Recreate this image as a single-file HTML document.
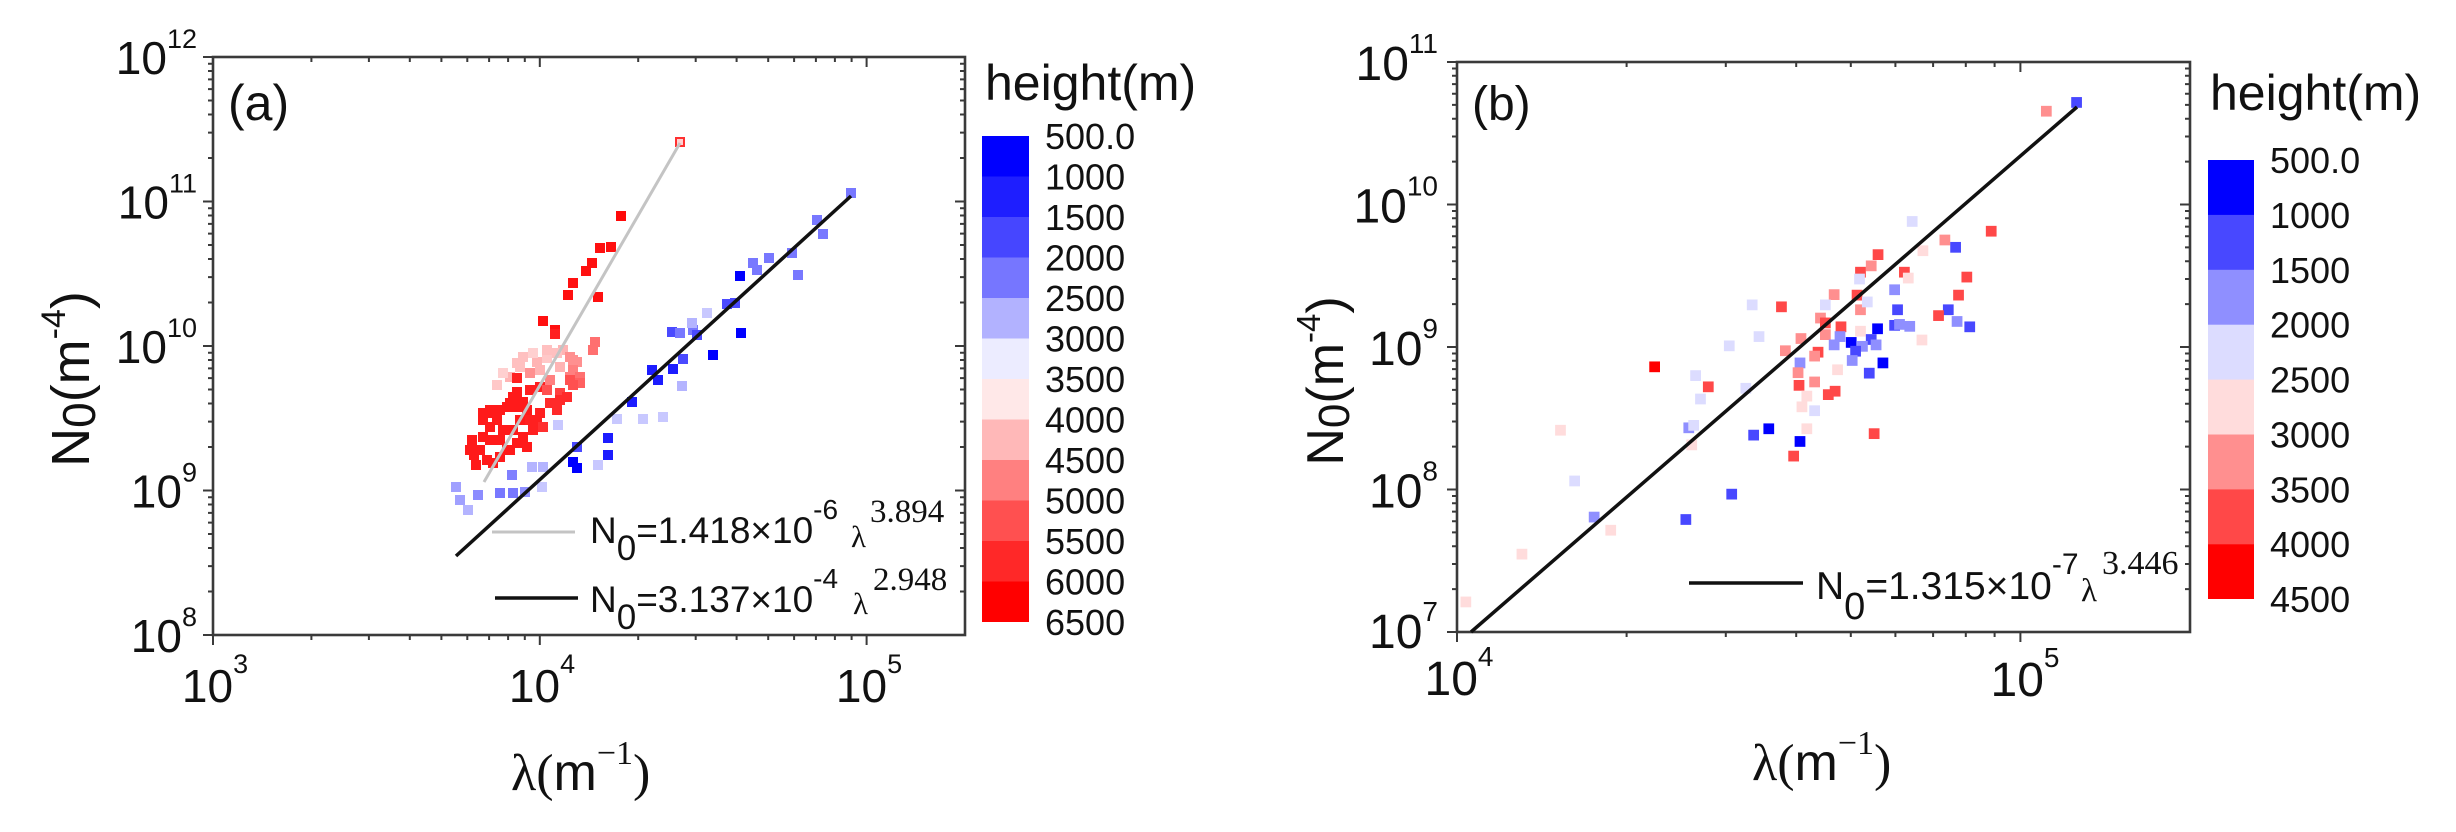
<!DOCTYPE html>
<html>
<head>
<meta charset="utf-8">
<style>
html,body{margin:0;padding:0;background:#fff;width:2456px;height:832px;overflow:hidden}
svg{position:absolute;left:0;top:0}
.s{font-family:"Liberation Sans",Arial,sans-serif;fill:#111}
.r{font-family:"Liberation Serif","Times New Roman",serif;fill:#111}
</style>
</head>
<body>
<svg width="2456" height="832" viewBox="0 0 2456 832" xmlns="http://www.w3.org/2000/svg">
<defs>
<rect id="p" x="-5" y="-5" width="10" height="10"/>
<rect id="q" x="-11" y="-11" width="22" height="22"/>
<!-- panel a y ticks (relative x=0) -->
<path id="ayMin" d="M0 591.5h-5M0 566.1h-5M0 548h-5M0 534h-5M0 522.6h-5M0 512.9h-5M0 504.5h-5M0 497.2h-5M0 447h-5M0 421.6h-5M0 403.5h-5M0 389.5h-5M0 378.1h-5M0 368.4h-5M0 360h-5M0 352.7h-5M0 302.5h-5M0 277.1h-5M0 259h-5M0 245h-5M0 233.6h-5M0 223.9h-5M0 215.5h-5M0 208.2h-5M0 158h-5M0 132.6h-5M0 114.5h-5M0 100.5h-5M0 89.1h-5M0 79.4h-5M0 71h-5M0 63.7h-5" />
<path id="ayMaj" d="M0 57h-10M0 201.5h-10M0 346h-10M0 490.5h-10M0 635h-10"/>
<path id="axMin" d="M311.4 0v5M368.9 0v5M409.8 0v5M441.4 0v5M467.3 0v5M489.1 0v5M508.1 0v5M524.8 0v5M638.2 0v5M695.7 0v5M736.6 0v5M768.2 0v5M794.1 0v5M815.9 0v5M834.9 0v5M851.6 0v5"/>
<path id="axMaj" d="M213 0v10M539.8 0v10M866.6 0v10"/>
<!-- panel b -->
<path id="byMin" d="M0 589.1h-5M0 564h-5M0 546.2h-5M0 532.4h-5M0 521.2h-5M0 511.6h-5M0 503.3h-5M0 496h-5M0 446.6h-5M0 421.5h-5M0 403.7h-5M0 389.9h-5M0 378.7h-5M0 369.1h-5M0 360.8h-5M0 353.5h-5M0 304.1h-5M0 279h-5M0 261.2h-5M0 247.4h-5M0 236.2h-5M0 226.6h-5M0 218.3h-5M0 211h-5M0 161.6h-5M0 136.5h-5M0 118.7h-5M0 104.9h-5M0 93.7h-5M0 84.1h-5M0 75.8h-5M0 68.5h-5"/>
<path id="byMaj" d="M0 62h-10M0 204.5h-10M0 347h-10M0 489.5h-10M0 632h-10"/>
<path id="bxMin" d="M1626.6 0v5M1725.8 0v5M1796.2 0v5M1850.8 0v5M1895.4 0v5M1933.1 0v5M1965.8 0v5M1994.6 0v5"/>
<path id="bxMaj" d="M1457 0v10M2020.4 0v10"/>
</defs>

<!-- ================= PANEL A ================= -->
<g stroke="#3a3a3a" stroke-width="2" fill="none">
<use href="#ayMin" x="213"/>
<use href="#ayMin" x="965"/>
<use href="#ayMaj" x="213"/>
<use href="#ayMaj" x="965"/>
<use href="#axMin" y="635"/>
<use href="#axMin" y="57"/>
<use href="#axMaj" y="635"/>
<use href="#axMaj" y="57" transform="translate(0,0)"/>
</g>
<g stroke="#3a3a3a" stroke-width="2" fill="none" transform="translate(0,0)">
<path d="M213 57v0"/>
</g>
<rect x="213" y="57" width="752" height="578" fill="none" stroke="#3a3a3a" stroke-width="2.6"/>

<!-- scatter a: blue -->
<g>
<use href="#p" x="851" y="193" fill="#7878ff"/>
<use href="#p" x="817" y="220" fill="#7878ff"/>
<use href="#p" x="823" y="234" fill="#7878ff"/>
<use href="#p" x="792" y="253" fill="#7878ff"/>
<use href="#p" x="769" y="258" fill="#7878ff"/>
<use href="#p" x="753" y="263" fill="#7878ff"/>
<use href="#p" x="757" y="270" fill="#7878ff"/>
<use href="#p" x="740" y="276" fill="#0000ff"/>
<use href="#p" x="798" y="275" fill="#7878ff"/>
<use href="#p" x="727" y="304" fill="#4a4aff"/>
<use href="#p" x="735" y="303" fill="#4a4aff"/>
<use href="#p" x="707" y="313" fill="#c8c8ff"/>
<use href="#p" x="741" y="333" fill="#0000ff"/>
<use href="#p" x="713" y="355" fill="#0000ff"/>
<use href="#p" x="693" y="330" fill="#7878ff"/>
<use href="#p" x="697" y="335" fill="#4a4aff"/>
<use href="#p" x="672" y="332" fill="#4a4aff"/>
<use href="#p" x="680" y="333" fill="#7878ff"/>
<use href="#p" x="692" y="323" fill="#b4b4ff"/>
<use href="#p" x="683" y="359" fill="#4a4aff"/>
<use href="#p" x="652" y="370" fill="#1c1cff"/>
<use href="#p" x="658" y="380" fill="#1c1cff"/>
<use href="#p" x="673" y="369" fill="#1c1cff"/>
<use href="#p" x="682" y="386" fill="#b4b4ff"/>
<use href="#p" x="632" y="402" fill="#1c1cff"/>
<use href="#p" x="617" y="419" fill="#c8c8ff"/>
<use href="#p" x="643" y="419" fill="#c8c8ff"/>
<use href="#p" x="663" y="417" fill="#c8c8ff"/>
<use href="#p" x="608" y="438" fill="#1c1cff"/>
<use href="#p" x="608" y="455" fill="#1c1cff"/>
<use href="#p" x="577" y="447" fill="#4a4aff"/>
<use href="#p" x="573" y="462" fill="#0000ff"/>
<use href="#p" x="577" y="468" fill="#0000ff"/>
<use href="#p" x="598" y="465" fill="#c8c8ff"/>
<use href="#p" x="558" y="425" fill="#c8c8ff"/>
<use href="#p" x="532" y="467" fill="#b4b4ff"/>
<use href="#p" x="543" y="467" fill="#b4b4ff"/>
<use href="#p" x="542" y="487" fill="#c8c8ff"/>
<use href="#p" x="512" y="475" fill="#8080ff"/>
<use href="#p" x="500" y="493" fill="#7878ff"/>
<use href="#p" x="513" y="493" fill="#7878ff"/>
<use href="#p" x="525" y="492" fill="#9090ff"/>
<use href="#p" x="456" y="487" fill="#a0a0ff"/>
<use href="#p" x="460" y="500" fill="#a0a0ff"/>
<use href="#p" x="468" y="510" fill="#b4b4ff"/>
<use href="#p" x="478" y="495" fill="#8c8cff"/>
</g>
<!-- scatter a: red -->
<g>
<rect x="676" y="138" width="8" height="8" fill="#ffd0d0" stroke="#ff3030" stroke-width="2"/>
<use href="#p" x="621" y="216" fill="#ff0a0a"/>
<use href="#p" x="611" y="247" fill="#ff1010"/>
<use href="#p" x="600" y="248" fill="#ff1010"/>
<use href="#p" x="592" y="263" fill="#ff1010"/>
<use href="#p" x="586" y="271" fill="#ff1010"/>
<use href="#p" x="573" y="283" fill="#ff1010"/>
<use href="#p" x="568" y="295" fill="#ff1010"/>
<use href="#p" x="598" y="297" fill="#ff1010"/>
<use href="#p" x="543" y="321" fill="#ff1010"/>
<use href="#p" x="555" y="330" fill="#ff1010"/>
<use href="#p" x="595" y="342" fill="#ff7070"/>
<use href="#p" x="593" y="350" fill="#ff7070"/>
<use href="#p" x="555" y="334" fill="#ff2020"/>
<!-- pink zone -->
<use href="#p" x="563" y="350" fill="#ffb4b4"/>
<use href="#p" x="557" y="353" fill="#ffc0c0"/>
<use href="#p" x="570" y="357" fill="#ff9090"/>
<use href="#p" x="577" y="362" fill="#ff9090"/>
<use href="#p" x="547" y="358" fill="#ffc8c8"/>
<use href="#p" x="537" y="362" fill="#ffb4b4"/>
<use href="#p" x="520" y="367" fill="#ffc0c0"/>
<use href="#p" x="510" y="377" fill="#ffb4b4"/>
<use href="#p" x="503" y="373" fill="#ffd0d0"/>
<use href="#p" x="530" y="373" fill="#ff9090"/>
<use href="#p" x="573" y="367" fill="#ff8080"/>
<use href="#p" x="580" y="377" fill="#ff7070"/>
<use href="#p" x="517" y="363" fill="#ffc0c0"/>
<use href="#p" x="523" y="357" fill="#ffc0c0"/>
<use href="#p" x="533" y="353" fill="#ffd0d0"/>
<use href="#p" x="547" y="350" fill="#ffc0c0"/>
<use href="#p" x="573" y="360" fill="#ff9090"/>
<use href="#p" x="560" y="367" fill="#ffb4b4"/>
<use href="#p" x="540" y="370" fill="#ffb4b4"/>
<use href="#p" x="550" y="380" fill="#ff8080"/>
<use href="#p" x="570" y="377" fill="#ff8080"/>
<use href="#p" x="497" y="385" fill="#ffc8c8"/>
<!-- red zone -->
<use href="#p" x="517" y="378" fill="#ff2020"/>
<use href="#p" x="513" y="397" fill="#ff1a1a"/>
<use href="#p" x="510" y="403" fill="#ff1a1a"/>
<use href="#p" x="517" y="407" fill="#ff1a1a"/>
<use href="#p" x="523" y="402" fill="#ff1a1a"/>
<use href="#p" x="490" y="410" fill="#ff1a1a"/>
<use href="#p" x="497" y="417" fill="#ff1a1a"/>
<use href="#p" x="483" y="413" fill="#ff1a1a"/>
<use href="#p" x="540" y="387" fill="#ff2020"/>
<use href="#p" x="547" y="390" fill="#ff5050"/>
<use href="#p" x="550" y="403" fill="#ff2a2a"/>
<use href="#p" x="560" y="393" fill="#ff4040"/>
<use href="#p" x="567" y="397" fill="#ff2a2a"/>
<use href="#p" x="557" y="410" fill="#ff2a2a"/>
<use href="#p" x="570" y="380" fill="#ff5050"/>
<use href="#p" x="580" y="383" fill="#ff6060"/>
<use href="#p" x="517" y="392" fill="#ff1a1a"/>
<use href="#p" x="530" y="390" fill="#ff2020"/>
<use href="#p" x="573" y="385" fill="#ff5050"/>
<use href="#p" x="560" y="400" fill="#ff2a2a"/>
<use href="#p" x="540" y="413" fill="#ff2020"/>
<use href="#p" x="537" y="423" fill="#ff2020"/>
<use href="#p" x="533" y="430" fill="#ff2020"/>
<use href="#p" x="523" y="437" fill="#ff1a1a"/>
<use href="#p" x="527" y="447" fill="#ff1a1a"/>
<use href="#p" x="517" y="443" fill="#ff1a1a"/>
<use href="#p" x="510" y="450" fill="#ff1a1a"/>
<use href="#p" x="500" y="457" fill="#ff1a1a"/>
<use href="#p" x="493" y="463" fill="#ff1a1a"/>
<use href="#p" x="487" y="460" fill="#ff1a1a"/>
<use href="#p" x="480" y="450" fill="#ff1a1a"/>
<use href="#p" x="483" y="437" fill="#ff1a1a"/>
<use href="#p" x="490" y="427" fill="#ff1a1a"/>
<use href="#p" x="493" y="413" fill="#ff1a1a"/>
<use href="#p" x="500" y="410" fill="#ff1a1a"/>
<use href="#p" x="507" y="407" fill="#ff1a1a"/>
<use href="#p" x="497" y="420" fill="#ff1a1a"/>
<use href="#p" x="503" y="430" fill="#ff1a1a"/>
<use href="#p" x="513" y="430" fill="#ff1a1a"/>
<use href="#p" x="520" y="420" fill="#ff1a1a"/>
<use href="#p" x="527" y="410" fill="#ff1a1a"/>
<use href="#p" x="483" y="420" fill="#ff1a1a"/>
<use href="#p" x="490" y="440" fill="#ff1a1a"/>
<use href="#p" x="543" y="427" fill="#ff3030"/>
<use href="#p" x="500" y="440" fill="#ff1a1a"/>
<use href="#p" x="507" y="450" fill="#ff1a1a"/>
<use href="#p" x="530" y="420" fill="#ff2020"/>
<use href="#p" x="472" y="440" fill="#ff1a1a"/>
<use href="#p" x="474" y="455" fill="#ff1a1a"/>
<use href="#p" x="476" y="465" fill="#ff1a1a"/>
<use href="#p" x="470" y="450" fill="#ff1a1a"/>
</g>
<!-- fit lines a -->
<line x1="680" y1="143" x2="484" y2="482" stroke="#c4c4c4" stroke-width="3"/>
<line x1="456" y1="556" x2="851" y2="196" stroke="#111" stroke-width="3.5"/>

<!-- legend a -->
<line x1="492" y1="532" x2="575" y2="532" stroke="#c4c4c4" stroke-width="3"/>
<text class="s" x="590" y="543" font-size="37">N<tspan font-size="35" dy="17">0</tspan><tspan dy="-17">=1.418×10</tspan><tspan font-size="28" dy="-24">-6</tspan></text>
<text class="r" x="851" y="547" font-size="31">λ</text>
<text class="r" x="870" y="522" font-size="33">3.894</text>
<line x1="495" y1="598" x2="578" y2="598" stroke="#111" stroke-width="3.5"/>
<text class="s" x="590" y="612" font-size="37">N<tspan font-size="35" dy="17">0</tspan><tspan dy="-17">=3.137×10</tspan><tspan font-size="28" dy="-24">-4</tspan></text>
<text class="r" x="853" y="614" font-size="31">λ</text>
<text class="r" x="873" y="590" font-size="33">2.948</text>

<!-- panel a label -->
<text class="s" x="228" y="120" font-size="50">(a)</text>

<!-- tick labels a: y -->
<g class="s" font-size="46" text-anchor="end">
<text x="197" y="74">10<tspan font-size="27" dy="-26">12</tspan></text>
<text x="197" y="218.5">10<tspan font-size="27" dy="-26">11</tspan></text>
<text x="197" y="363">10<tspan font-size="27" dy="-26">10</tspan></text>
<text x="197" y="507.5">10<tspan font-size="27" dy="-26">9</tspan></text>
<text x="197" y="652">10<tspan font-size="27" dy="-26">8</tspan></text>
</g>
<g class="s" font-size="46" text-anchor="middle">
<text x="215" y="702">10<tspan font-size="27" dy="-29">3</tspan></text>
<text x="542" y="702">10<tspan font-size="27" dy="-29">4</tspan></text>
<text x="869" y="702">10<tspan font-size="27" dy="-29">5</tspan></text>
</g>
<!-- axis titles a -->
<text class="r" x="511" y="790" font-size="52">λ(<tspan class="s" style="font-family:'Liberation Sans',Arial,sans-serif">m</tspan><tspan font-size="34" dy="-26">−1</tspan><tspan dy="26">)</tspan></text>
<text class="s" font-size="54" text-anchor="middle" transform="translate(89,379) rotate(-90)">N<tspan font-size="46" dy="6">0</tspan><tspan dy="-6">(m</tspan><tspan font-size="34" dy="-24">-4</tspan><tspan dy="24">)</tspan></text>

<!-- colorbar a -->
<g>
<rect x="982" y="136" width="47" height="41" fill="#0000ff"/>
<rect x="982" y="176.5" width="47" height="41" fill="#1e1eff"/>
<rect x="982" y="217" width="47" height="41" fill="#4646ff"/>
<rect x="982" y="257.5" width="47" height="41" fill="#7676ff"/>
<rect x="982" y="298" width="47" height="41" fill="#b2b2ff"/>
<rect x="982" y="338.5" width="47" height="41" fill="#ececff"/>
<rect x="982" y="379" width="47" height="41" fill="#ffe8e8"/>
<rect x="982" y="419.5" width="47" height="41" fill="#ffb8b8"/>
<rect x="982" y="460" width="47" height="41" fill="#ff8080"/>
<rect x="982" y="500.5" width="47" height="41" fill="#ff5050"/>
<rect x="982" y="541" width="47" height="41" fill="#ff2828"/>
<rect x="982" y="581.5" width="47" height="40.5" fill="#ff0000"/>
</g>
<text class="s" x="985" y="100" font-size="50">height(m)</text>
<g class="s" font-size="36">
<text x="1045" y="149">500.0</text>
<text x="1045" y="189.5">1000</text>
<text x="1045" y="230">1500</text>
<text x="1045" y="270.5">2000</text>
<text x="1045" y="311">2500</text>
<text x="1045" y="351.5">3000</text>
<text x="1045" y="392">3500</text>
<text x="1045" y="432.5">4000</text>
<text x="1045" y="473">4500</text>
<text x="1045" y="513.5">5000</text>
<text x="1045" y="554">5500</text>
<text x="1045" y="594.5">6000</text>
<text x="1045" y="635">6500</text>
</g>

<!-- ================= PANEL B ================= -->
<g stroke="#3a3a3a" stroke-width="2" fill="none">
<use href="#byMin" x="1457"/>
<use href="#byMin" x="2190"/>
<use href="#byMaj" x="1457"/>
<use href="#byMaj" x="2190"/>
<use href="#bxMin" y="632"/>
<use href="#bxMin" y="62"/>
<use href="#bxMaj" y="632"/>
<use href="#bxMaj" y="62"/>
</g>
<rect x="1457" y="62" width="733" height="570" fill="none" stroke="#3a3a3a" stroke-width="2.6"/>

<g transform="translate(1440 40) scale(0.4878)">
<use href="#q" x="1305" y="128" fill="#4848ff"/>
<use href="#q" x="1243" y="146" fill="#ff8f8f"/>
<use href="#q" x="1130" y="392" fill="#ff4848"/>
<use href="#q" x="968" y="372" fill="#dcdcff"/>
<use href="#q" x="1035" y="410" fill="#ff8f8f"/>
<use href="#q" x="1057" y="425" fill="#4848ff"/>
<use href="#q" x="990" y="432" fill="#ffdcdc"/>
<use href="#q" x="898" y="440" fill="#ff4848"/>
<use href="#q" x="884" y="463" fill="#ff8f8f"/>
<use href="#q" x="862" y="476" fill="#ff4848"/>
<use href="#q" x="952" y="476" fill="#ff4848"/>
<use href="#q" x="960" y="488" fill="#ffdcdc"/>
<use href="#q" x="1080" y="486" fill="#ff4848"/>
<use href="#q" x="860" y="490" fill="#dcdcff"/>
<use href="#q" x="932" y="512" fill="#8f8fff"/>
<use href="#q" x="1063" y="523" fill="#ff4848"/>
<use href="#q" x="808" y="522" fill="#ff8f8f"/>
<use href="#q" x="855" y="523" fill="#ff4848"/>
<use href="#q" x="862" y="553" fill="#ff8f8f"/>
<use href="#q" x="876" y="537" fill="#dcdcff"/>
<use href="#q" x="790" y="543" fill="#dcdcff"/>
<use href="#q" x="700" y="547" fill="#ff4848"/>
<use href="#q" x="640" y="543" fill="#dcdcff"/>
<use href="#q" x="938" y="553" fill="#4848ff"/>
<use href="#q" x="1042" y="553" fill="#4848ff"/>
<use href="#q" x="1022" y="565" fill="#ff4848"/>
<use href="#q" x="780" y="570" fill="#ff8f8f"/>
<use href="#q" x="790" y="580" fill="#ff4848"/>
<use href="#q" x="822" y="588" fill="#ff4848"/>
<use href="#q" x="862" y="597" fill="#ffdcdc"/>
<use href="#q" x="897" y="592" fill="#0000ff"/>
<use href="#q" x="932" y="585" fill="#4848ff"/>
<use href="#q" x="942" y="583" fill="#8f8fff"/>
<use href="#q" x="963" y="587" fill="#8f8fff"/>
<use href="#q" x="1060" y="577" fill="#8f8fff"/>
<use href="#q" x="1086" y="588" fill="#4848ff"/>
<use href="#q" x="654" y="608" fill="#dcdcff"/>
<use href="#q" x="740" y="612" fill="#ff8f8f"/>
<use href="#q" x="790" y="604" fill="#ff8f8f"/>
<use href="#q" x="820" y="608" fill="#8f8fff"/>
<use href="#q" x="808" y="625" fill="#8f8fff"/>
<use href="#q" x="843" y="620" fill="#0000ff"/>
<use href="#q" x="884" y="614" fill="#4848ff"/>
<use href="#q" x="894" y="625" fill="#8f8fff"/>
<use href="#q" x="866" y="628" fill="#8f8fff"/>
<use href="#q" x="852" y="638" fill="#4848ff"/>
<use href="#q" x="988" y="615" fill="#ffdcdc"/>
<use href="#q" x="593" y="627" fill="#dcdcff"/>
<use href="#q" x="708" y="637" fill="#ff8f8f"/>
<use href="#q" x="775" y="640" fill="#ff4848"/>
<use href="#q" x="768" y="648" fill="#ff8f8f"/>
<use href="#q" x="738" y="662" fill="#8f8fff"/>
<use href="#q" x="845" y="657" fill="#8f8fff"/>
<use href="#q" x="908" y="662" fill="#0000ff"/>
<use href="#q" x="440" y="670" fill="#ff0000"/>
<use href="#q" x="524" y="688" fill="#dcdcff"/>
<use href="#q" x="734" y="682" fill="#ff8f8f"/>
<use href="#q" x="815" y="676" fill="#ffdcdc"/>
<use href="#q" x="880" y="683" fill="#4848ff"/>
<use href="#q" x="550" y="711" fill="#ff4848"/>
<use href="#q" x="627" y="714" fill="#dcdcff"/>
<use href="#q" x="736" y="708" fill="#ff4848"/>
<use href="#q" x="768" y="701" fill="#ff8f8f"/>
<use href="#q" x="810" y="720" fill="#ff4848"/>
<use href="#q" x="796" y="727" fill="#ff4848"/>
<use href="#q" x="752" y="730" fill="#ffdcdc"/>
<use href="#q" x="534" y="736" fill="#dcdcff"/>
<use href="#q" x="742" y="752" fill="#ffdcdc"/>
<use href="#q" x="768" y="760" fill="#dcdcff"/>
<use href="#q" x="510" y="795" fill="#8f8fff"/>
<use href="#q" x="520" y="790" fill="#dcdcff"/>
<use href="#q" x="674" y="797" fill="#0000ff"/>
<use href="#q" x="643" y="810" fill="#4848ff"/>
<use href="#q" x="752" y="797" fill="#ffdcdc"/>
<use href="#q" x="247" y="800" fill="#ffdcdc"/>
<use href="#q" x="890" y="807" fill="#ff4848"/>
<use href="#q" x="738" y="823" fill="#0000ff"/>
<use href="#q" x="516" y="830" fill="#ffdcdc"/>
<use href="#q" x="725" y="853" fill="#ff4848"/>
<use href="#q" x="276" y="904" fill="#dcdcff"/>
<use href="#q" x="598" y="931" fill="#4848ff"/>
<use href="#q" x="316" y="978" fill="#8f8fff"/>
<use href="#q" x="504" y="983" fill="#4848ff"/>
<use href="#q" x="350" y="1005" fill="#ffdcdc"/>
<use href="#q" x="168" y="1054" fill="#ffdcdc"/>
<use href="#q" x="53" y="1152" fill="#ffdcdc"/>
</g>
<!-- fit line b -->
<line x1="1471" y1="632" x2="2077" y2="107" stroke="#111" stroke-width="3.5"/>

<!-- legend b -->
<line x1="1689" y1="583" x2="1803" y2="583" stroke="#111" stroke-width="3.5"/>
<text class="s" x="1816" y="599" font-size="39">N<tspan font-size="38" dy="20">0</tspan><tspan dy="-20">=1.315×10</tspan><tspan font-size="30" dy="-25">-7</tspan></text>
<text class="r" x="2081" y="601" font-size="33">λ</text>
<text class="r" x="2102" y="574" font-size="34">3.446</text>

<text class="s" x="1472" y="120" font-size="48">(b)</text>

<!-- tick labels b -->
<g class="s" font-size="48" text-anchor="end">
<text x="1438" y="80">10<tspan font-size="28" dy="-27">11</tspan></text>
<text x="1438" y="222.5">10<tspan font-size="28" dy="-27">10</tspan></text>
<text x="1438" y="365">10<tspan font-size="28" dy="-27">9</tspan></text>
<text x="1438" y="507.5">10<tspan font-size="28" dy="-27">8</tspan></text>
<text x="1438" y="648">10<tspan font-size="28" dy="-27">7</tspan></text>
</g>
<g class="s" font-size="48" text-anchor="middle">
<text x="1459" y="695">10<tspan font-size="28" dy="-29">4</tspan></text>
<text x="2025" y="696">10<tspan font-size="28" dy="-29">5</tspan></text>
</g>
<text class="r" x="1752" y="780" font-size="52">λ(<tspan style="font-family:'Liberation Sans',Arial,sans-serif">m</tspan><tspan font-size="34" dy="-26">−1</tspan><tspan dy="26">)</tspan></text>
<text class="s" font-size="52" text-anchor="middle" transform="translate(1343,381) rotate(-90)">N<tspan font-size="44" dy="6">0</tspan><tspan dy="-6">(m</tspan><tspan font-size="33" dy="-23">-4</tspan><tspan dy="23">)</tspan></text>

<!-- colorbar b -->
<g>
<rect x="2208" y="160" width="46" height="55.5" fill="#0000ff"/>
<rect x="2208" y="214.9" width="46" height="55.5" fill="#4848ff"/>
<rect x="2208" y="269.8" width="46" height="55.5" fill="#8f8fff"/>
<rect x="2208" y="324.7" width="46" height="55.5" fill="#dcdcff"/>
<rect x="2208" y="379.6" width="46" height="55.5" fill="#ffdcdc"/>
<rect x="2208" y="434.5" width="46" height="55.5" fill="#ff8f8f"/>
<rect x="2208" y="489.4" width="46" height="55.5" fill="#ff4848"/>
<rect x="2208" y="544.3" width="46" height="54.7" fill="#ff0000"/>
</g>
<text class="s" x="2210" y="110" font-size="50">height(m)</text>
<g class="s" font-size="36">
<text x="2270" y="173">500.0</text>
<text x="2270" y="228">1000</text>
<text x="2270" y="283">1500</text>
<text x="2270" y="337.5">2000</text>
<text x="2270" y="392.5">2500</text>
<text x="2270" y="447.5">3000</text>
<text x="2270" y="502.5">3500</text>
<text x="2270" y="557">4000</text>
<text x="2270" y="612">4500</text>
</g>
</svg>
</body>
</html>
